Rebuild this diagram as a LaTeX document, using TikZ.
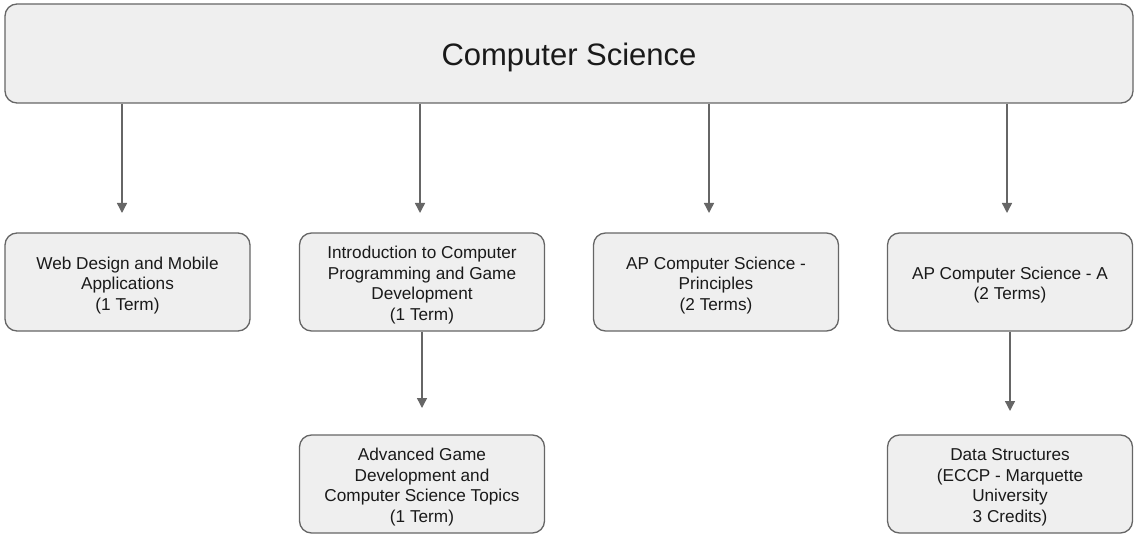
\documentclass[tikz,border=0pt]{standalone}
\usepackage{fontspec}
\setmainfont{Liberation Sans}
\usetikzlibrary{arrows.meta}
\definecolor{boxfill}{HTML}{EFEFEF}
\definecolor{boxline}{HTML}{666666}
\definecolor{txt}{HTML}{1A1A1A}
\newcommand{\topstrut}{\rule{0pt}{19pt}}
\tikzset{
  box/.style={draw=boxline, fill=boxfill, line width=1.3pt, rounded corners=12pt,
    minimum width=245pt, minimum height=98pt, align=center, text=txt,
    font=\fontsize{17.2}{20.5}\selectfont, inner sep=0pt},
  titlebox/.style={box, minimum width=1128pt, minimum height=99pt, font=\fontsize{31}{36}\selectfont},
  arr/.style={draw=boxline, line width=1.4pt, -{Triangle[width=10pt,length=10pt]}}
}
\begin{document}
\begin{tikzpicture}[x=1pt,y=-1pt]
\useasboundingbox (0,0) rectangle (1140,540);
\node[titlebox] (top) at (569,53.5) {\rule{0pt}{30.5pt}Computer Science};
\node[box] (c1) at (127.5,282) {\topstrut Web Design and Mobile\\Applications\\(1 Term)};
\node[box] (c2) at (422,282) {\topstrut Introduction to Computer\\Programming and Game\\Development\\(1 Term)};
\node[box] (c3) at (716,282) {\topstrut AP Computer Science -\\Principles\\(2 Terms)};
\node[box] (c4) at (1010,282) {\topstrut AP Computer Science - A\\(2 Terms)};
\node[box] (d2) at (422,484) {\topstrut Advanced Game\\Development and\\Computer Science Topics\\(1 Term)};
\node[box] (d4) at (1010,484) {\topstrut Data Structures\\(ECCP - Marquette\\University\\3 Credits)};
\coordinate (a1) at (122,213);
\coordinate (a2) at (420,213);
\coordinate (a3) at (709,213);
\coordinate (a4) at (1007,213);
\coordinate (b2) at (422,408);
\coordinate (b4) at (1010,411);
\draw[arr] (top.south -| a1) -- (a1);
\draw[arr] (top.south -| a2) -- (a2);
\draw[arr] (top.south -| a3) -- (a3);
\draw[arr] (top.south -| a4) -- (a4);
\draw[arr] (c2.south) -- (b2);
\draw[arr] (c4.south) -- (b4);
\end{tikzpicture}
\end{document}
